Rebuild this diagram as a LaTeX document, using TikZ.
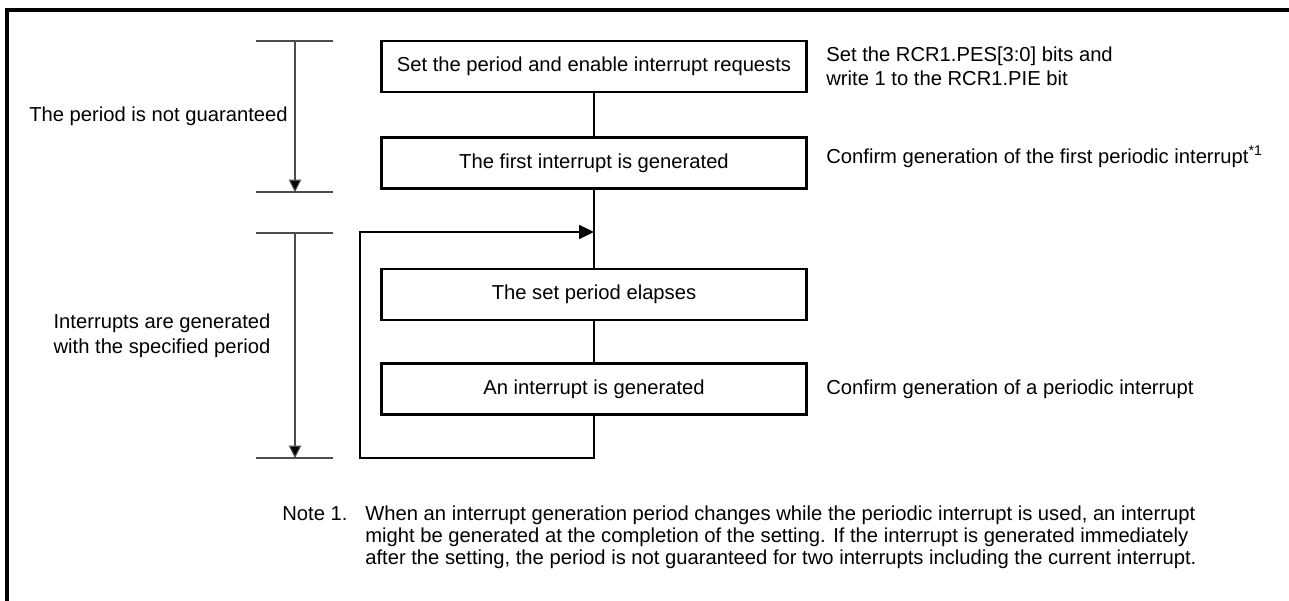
\documentclass[tikz,border=0pt]{standalone}
\usepackage{fontspec}
\setmainfont{Liberation Sans}
\usetikzlibrary{arrows.meta,positioning}

\tikzset{
  stepbox/.style={draw, line width=1.5pt, minimum width=8.5cm, minimum height=1.02cm, inner sep=0pt},
  link/.style={line width=0.8pt},
  tick/.style={line width=0.6pt, draw=black!70},
  span/.style={line width=0.6pt, draw=black!70, -{Triangle[length=7pt,width=7pt,fill=black]}},
  memo/.style={anchor=west, align=left, inner sep=0pt}
}

\begin{document}
\begin{tikzpicture}[x=0.02cm, y=-0.02cm, font=\fontsize{11.5}{14}\selectfont]
  \useasboundingbox (0,0) rectangle (1289,601);
  \draw[line width=2pt] (1289,10) -- (7,10) -- (7,601);

  % flow
  \node[stepbox] (setup) at (594,66.5) {Set the period and enable interrupt requests};
  \node[stepbox] (first) at (594,163) {The first interrupt is generated};
  \node[stepbox] (elapse) at (594,294.5) {The set period elapses};
  \node[stepbox] (intr) at (594,389) {An interrupt is generated};
  \coordinate (join) at (594,232);
  \coordinate (loopbl) at (360,458);
  \coordinate (looptl) at (360,232);

  \draw[link] (setup) -- (first);
  \draw[link] (first) -- (elapse);
  \draw[link] (elapse) -- (intr);
  \draw[link, -{Triangle[length=8.5pt,width=8pt]}] (intr.south) |- (loopbl) -- (looptl) -- (join);

  % notes on the right
  \node[memo, font=\fontsize{11.5}{13.7}\selectfont] (setnote) at (826,66) {Set the RCR1.PES[3:0] bits and\\write 1 to the RCR1.PIE bit};
  \node[memo] (firstnote) at (826,157) {Confirm generation of the first periodic interrupt\textsuperscript{*1}};
  \node[memo] (intrnote) at (826,389) {Confirm generation of a periodic interrupt};

  % spans on the left
  \coordinate (t1) at (295,41);
  \coordinate (b1) at (295,192);
  \coordinate (t2) at (295,233);
  \coordinate (b2) at (295,458);
  \draw[tick] (256,41) -- (333,41);
  \draw[tick] (256,192) -- (333,192);
  \draw[tick] (256,233) -- (333,233);
  \draw[tick] (256,458) -- (333,458);
  \draw[span] (t1) -- (b1);
  \draw[span] (t2) -- (b2);
  \node[anchor=east, inner sep=0pt] (nog) at (288,116) {The period is not guaranteed};
  \node[align=center, inner sep=0pt, font=\fontsize{11.5}{14.2}\selectfont] (gen) at (162,336) {Interrupts are generated\\with the specified period};

  % footnote
  \node[memo, anchor=north west] (notehd) at (282,506) {Note 1.};
  \node[memo, anchor=north west, font=\fontsize{11.5}{12.5}\selectfont] (notebody) at (365,506) {When an interrupt generation period changes while the periodic interrupt is used, an interrupt\\might be generated at the completion of the setting. If the interrupt is generated immediately\\after the setting, the period is not guaranteed for two interrupts including the current interrupt.};
\end{tikzpicture}
\end{document}
